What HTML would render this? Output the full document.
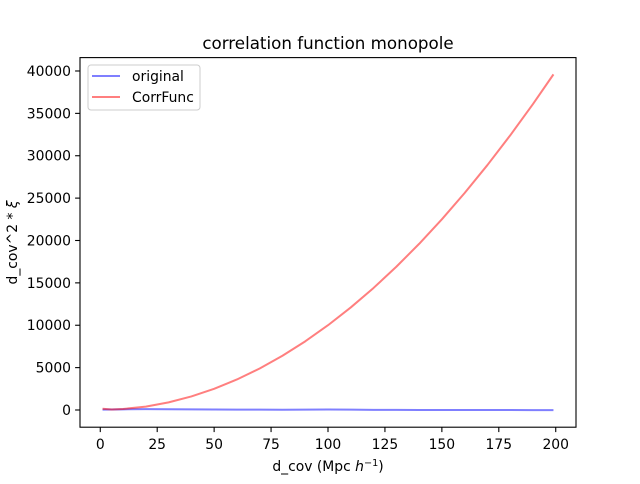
<!DOCTYPE html>
<html><head><meta charset="utf-8"><style>
body{margin:0;background:#fff;font-family:"DejaVu Sans","Liberation Sans",sans-serif;}
svg text{font-family:"DejaVu Sans","Liberation Sans",sans-serif;}
</style></head><body>
<svg id="chart" width="640" height="480" xmlns="http://www.w3.org/2000/svg">
<rect width="640" height="480" fill="#fff"/>
<g id="plot"></g>
</svg>
<script>
const xs=[1,5,10,20,30,40,50,60,70,80,90,100,110,120,130,140,150,160,170,180,190,199];
const corrFunc=[150,60,120,400,900,1600,2500,3600,4900,6400,8100,10000,12100,14400,16900,19600,22500,25600,28900,32400,36100,39600];
const original=[50,60,80,100,90,70,60,50,40,35,40,60,40,20,10,5,5,0,-5,-5,-10,-10];
const xTicks=[0,25,50,75,100,125,150,175,200];
const yTicks=[0,5000,10000,15000,20000,25000,30000,35000,40000];
const L=80,R=576,T=57.6,B=427.2;
const xmin=-8.9,xmax=208.9,ymin=-2030,ymax=41580;
const sx=v=>L+(v-xmin)/(xmax-xmin)*(R-L);
const sy=v=>B-(v-ymin)/(ymax-ymin)*(B-T);
const NS="http://www.w3.org/2000/svg";
const g=document.getElementById('plot');
const FS=13.9;
function mk(t,a,txt){const e=document.createElementNS(NS,t);for(const k in a)e.setAttribute(k,a[k]);if(txt!==undefined)e.textContent=txt;g.appendChild(e);return e;}
xTicks.forEach(v=>{
 const l=mk('line',{x1:sx(v),x2:sx(v),y1:B,y2:B+4.9,stroke:'#000','stroke-width':1.1});
 
 
 const t=mk('text',{x:sx(v),y:B+22,'text-anchor':'middle','font-size':FS},String(v));
 
 
});
yTicks.forEach(v=>{
 const l=mk('line',{x1:L-4.9,x2:L,y1:sy(v),y2:sy(v),stroke:'#000','stroke-width':1.1});
 
 
 const t=mk('text',{x:L-9,y:sy(v)+5,'text-anchor':'end','font-size':FS},String(v));
 
 
});
function line(ys,color,name){
 const p=mk('polyline',{points:xs.map((x,i)=>sx(x)+','+sy(ys[i])).join(' '),fill:'none',stroke:color,'stroke-opacity':0.5,'stroke-width':2,'stroke-linejoin':'round'});
 
 
}
line(original,'#0000ff','original-line');
line(corrFunc,'#ff0000','corrfunc-line');
const fr=mk('rect',{x:L,y:T,width:R-L,height:B-T,fill:'none',stroke:'#000','stroke-width':1.1});


const ti=mk('text',{x:(L+R)/2,y:49,'text-anchor':'middle','font-size':16.7},'correlation function monopole');


const xl=mk('text',{x:(L+R)/2,y:471,'text-anchor':'middle','font-size':FS});
xl.innerHTML='d_cov (Mpc <tspan font-style="italic">h</tspan><tspan font-size="9.7" dy="-5">−1</tspan><tspan dy="5">)</tspan>';


const yl=mk('text',{x:0,y:0,'text-anchor':'middle','font-size':FS,transform:'translate(17,'+((T+B)/2)+') rotate(-90)'});
yl.innerHTML='d_cov^2 * <tspan font-style="italic">ξ</tspan>';


const lg=mk('rect',{x:88,y:65,width:112,height:45,rx:3,fill:'#fff','fill-opacity':0.8,stroke:'#ccc','stroke-width':1});


[['original','#0000ff',76],['CorrFunc','#ff0000',97]].forEach(([n,c,y])=>{
 const l=mk('line',{x1:92,x2:120,y1:y,y2:y,stroke:c,'stroke-opacity':0.5,'stroke-width':2});
 
 
 const t=mk('text',{x:132,y:y+5,'font-size':FS},n);
 
 
});
</script>
</body></html>
